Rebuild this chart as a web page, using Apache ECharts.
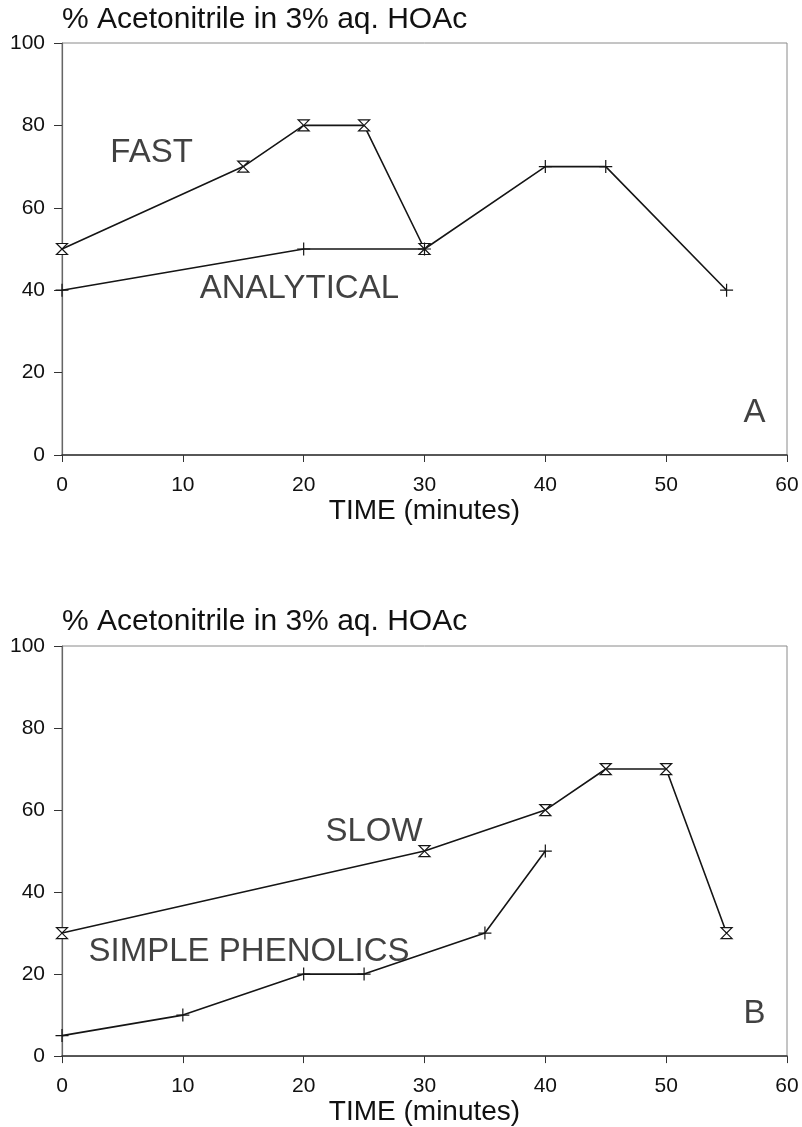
<!DOCTYPE html>
<html>
<head>
<meta charset="utf-8">
<script src="https://cdn.jsdelivr.net/npm/echarts@6/dist/echarts.min.js"></script>
<style>
html,body{margin:0;padding:0;background:#fff;}
#chart{width:802px;height:1127px;}
</style>
</head>
<body>
<div id="chart"></div>
<script>
// ---- data ----
const xTicks = [0, 10, 20, 30, 40, 50, 60];
const yTicks = [0, 20, 40, 60, 80, 100];
const yTitle = '% Acetonitrile in 3% aq. HOAc';
const xTitle = 'TIME (minutes)';

// Panel A
const fastTime = [0, 15, 20, 25, 30];
const fastPct = [50, 70, 80, 80, 50];
const analyticalTime = [0, 20, 30, 40, 45, 55];
const analyticalPct = [40, 50, 50, 70, 70, 40];

// Panel B
const slowTime = [0, 30, 40, 45, 50, 55];
const slowPct = [30, 50, 60, 70, 70, 30];
const phenolicsTime = [0, 10, 20, 25, 35, 40];
const phenolicsPct = [5, 10, 20, 20, 30, 50];

// annotation texts (text, x, y in data units)
const annotA = [['FAST', 4, 73.3], ['ANALYTICAL', 11.4, 40.3], ['A', 56.4, 10.2]];
const annotB = [['SLOW', 21.8, 54.6], ['SIMPLE PHENOLICS', 2.2, 25.5], ['B', 56.4, 10.4]];

// ---- chart ----
const FONT = 'Liberation Sans, Arial, sans-serif';
const HOURGLASS = 'path://M0,0 L12,0 L6,6 L12,12 L0,12 L6,6 Z';
const PLUS = 'path://M6,0 L6,12 M0,6 L12,6';
const zip = (a, b) => a.map((v, i) => [v, b[i]]);

const chart = echarts.init(document.getElementById('chart'), null, {renderer: 'canvas'});

function gridDef(top) {
  return {left: 62, right: 15, top: top, height: 412, show: true,
          borderColor: '#8a8a8a', borderWidth: 1, backgroundColor: 'transparent'};
}
function xAxisDef(i) {
  return {
    gridIndex: i, type: 'value', min: xTicks[0], max: xTicks[xTicks.length - 1], interval: 10,
    name: xTitle, nameLocation: 'middle', nameGap: 40,
    nameTextStyle: {fontFamily: FONT, fontSize: 28, color: '#111'},
    axisLine: {show: true, onZero: false, lineStyle: {color: '#333', width: 1.5}},
    axisTick: {show: true, inside: false, length: 7, lineStyle: {color: '#333', width: 1}},
    axisLabel: {fontFamily: FONT, fontSize: 21, color: '#111', margin: 20},
    splitLine: {show: false}
  };
}
function yAxisDef(i) {
  return {
    gridIndex: i, type: 'value', min: yTicks[0], max: yTicks[yTicks.length - 1], interval: 20,
    axisLine: {show: true, onZero: false, lineStyle: {color: '#666', width: 1.2}},
    axisTick: {show: true, inside: false, length: 8, lineStyle: {color: '#333', width: 1}},
    axisLabel: {fontFamily: FONT, fontSize: 21, color: '#111', margin: 17},
    splitLine: {show: false}
  };
}
function lineSeries(i, name, xs, ys, symbol, symbolSize, fill) {
  return {
    name: name, type: 'line', xAxisIndex: i, yAxisIndex: i,
    data: zip(xs, ys), symbol: symbol, symbolSize: symbolSize, showSymbol: true,
    lineStyle: {color: '#151515', width: 1.6},
    itemStyle: {color: fill, borderColor: '#151515', borderWidth: 1.2},
    emphasis: {disabled: true}, animation: false, z: 3
  };
}
function annotSeries(i, list) {
  return {
    type: 'scatter', xAxisIndex: i, yAxisIndex: i, symbolSize: 0, animation: false,
    silent: true,
    data: list.map(a => ({value: [a[1], a[2]], name: a[0],
      label: {show: true, formatter: a[0], position: 'right', distance: 0,
              fontFamily: FONT, fontSize: 33, color: '#111'}})),
    z: 4
  };
}

const titleStyle = {fontFamily: FONT, fontSize: 30, fontWeight: 'normal', color: '#111'};
const option = {
  backgroundColor: '#fff',
  animation: false,
  title: [
    {text: yTitle, left: 57, top: 0, textStyle: titleStyle},
    {text: yTitle, left: 57, top: 602, textStyle: titleStyle}
  ],
  grid: [gridDef(43), gridDef(646)],
  xAxis: [xAxisDef(0), xAxisDef(1)],
  yAxis: [yAxisDef(0), yAxisDef(1)],
  series: [
    lineSeries(0, 'FAST', fastTime, fastPct, HOURGLASS, 11, '#fff'),
    lineSeries(0, 'ANALYTICAL', analyticalTime, analyticalPct, PLUS, 13, 'none'),
    lineSeries(1, 'SLOW', slowTime, slowPct, HOURGLASS, 11, '#fff'),
    lineSeries(1, 'SIMPLE PHENOLICS', phenolicsTime, phenolicsPct, PLUS, 13, 'none'),
    annotSeries(0, annotA),
    annotSeries(1, annotB)
  ]
};
chart.setOption(option);
</script>
</body>
</html>
